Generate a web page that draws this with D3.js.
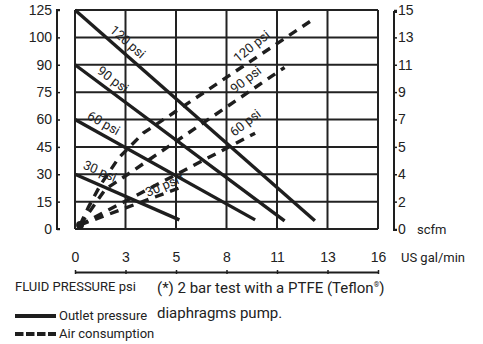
<!DOCTYPE html>
<html>
<head>
<meta charset="utf-8">
<script src="https://cdn.jsdelivr.net/npm/d3@7"></script>
<style>
  html, body { margin: 0; padding: 0; background: #fff; }
  svg { display: block; font-family: Roboto, "Liberation Sans", Arial, sans-serif; }
  text { fill: #222; }
</style>
</head>
<body>
<svg id="chart" width="483" height="344"></svg>
<script>
// Tick labels of the three scales (flow, fluid pressure, air consumption)
const flowTicks = [0, 3, 5, 8, 11, 13, 16];                   // US gal/min
const pressureTicks = [0, 15, 30, 45, 60, 75, 90, 100, 125];  // psi
const airTicks = [0, 2, 4, 5, 7, 9, 11, 13, 15];              // scfm

// Outlet pressure curves: [flow gal/min, outlet pressure psi]
const outlet120 = [[0, 125], [12.5, 4.5]];
const outlet90  = [[0, 90],  [11.3, 4.5]];
const outlet60  = [[0, 60],  [9.7, 5]];
const outlet30  = [[0, 30],  [5.2, 5]];

// Air consumption curves: [flow gal/min, air scfm]
const air120 = [[0.3, 0.3], [0.8, 1.6], [1.5, 3.2], [2.6, 4.6], [3.7, 6.0], [12.5, 14.4]];
const air90  = [[0.3, 0.3], [1.0, 1.5], [1.8, 2.9], [2.9, 3.8], [11.3, 10.8]];
const air60  = [[0.3, 0.3], [9.7, 6.0]];
const air30  = [[0.3, 0.3], [5.2, 3.0]];

const outletLabels = ["120 psi", "90 psi", "60 psi", "30 psi"];
const airLabels = ["120 psi", "90 psi", "60 psi", "30 psi*"];

const svg = d3.select("#chart");
const plot = { left: 75, right: 378, top: 10, bottom: 229 };

// The printed axes are evenly spaced ticks of converted units, so each
// scale is piecewise linear through its tick values.
const evenly = (n, a, b) => d3.range(n).map(i => a + (b - a) * i / (n - 1));
const x = d3.scaleLinear().domain(flowTicks).range(evenly(flowTicks.length, plot.left, plot.right));
const yP = d3.scaleLinear().domain(pressureTicks).range(evenly(pressureTicks.length, plot.bottom, plot.top));
const yA = d3.scaleLinear().domain(airTicks).range(evenly(airTicks.length, plot.bottom, plot.top));

const ink = "#1e1e1e";

// Grid
const grid = svg.append("g").attr("stroke", "#222").attr("stroke-width", 2);
grid.selectAll("line.h").data(pressureTicks).join("line")
  .attr("x1", plot.left).attr("x2", plot.right)
  .attr("y1", d => yP(d)).attr("y2", d => yP(d));
grid.selectAll("line.v").data(flowTicks).join("line")
  .attr("y1", plot.top).attr("y2", plot.bottom)
  .attr("x1", d => x(d)).attr("x2", d => x(d));

// Left axis (psi)
const leftAxis = svg.append("g").attr("transform", "translate(57,0)")
  .call(d3.axisRight(yP).tickValues(pressureTicks).tickSize(3).tickSizeOuter(0).tickFormat(d3.format("d")));
leftAxis.select(".domain").attr("stroke", ink).attr("stroke-width", 2).attr("d", `M3,${plot.top}H0V${plot.bottom}H3`);
leftAxis.selectAll(".tick line").attr("stroke", ink).attr("stroke-width", 1.5);
leftAxis.selectAll(".tick text").attr("x", -5).attr("text-anchor", "end")
  .style("font-size", "14px").attr("fill", "#222");

// Right axis (scfm)
const rightAxis = svg.append("g").attr("transform", "translate(394,0)")
  .call(d3.axisRight(yA).tickValues(airTicks).tickSize(3).tickSizeOuter(0).tickFormat(d3.format("d")));
rightAxis.select(".domain").attr("stroke", ink).attr("stroke-width", 2).attr("d", `M3,${plot.top + 2}H0V${plot.bottom + 1}H3`);
rightAxis.selectAll(".tick line").attr("stroke", ink).attr("stroke-width", 1.5);
rightAxis.selectAll(".tick text").attr("x", 4).style("font-size", "14px").attr("fill", "#222");
svg.append("text").attr("x", 417).attr("y", yA(0) + 5).style("font-size", "13px").text("scfm");

// Bottom axis (gal/min), labels above the line
const bottomAxis = svg.append("g").attr("transform", "translate(0,272)")
  .call(d3.axisTop(x).tickValues(flowTicks).tickSize(2).tickSizeOuter(0).tickFormat(d3.format("d")));
bottomAxis.select(".domain").attr("stroke", ink).attr("stroke-width", 2);
bottomAxis.selectAll(".tick line").attr("stroke", ink).attr("stroke-width", 1.5).attr("y1", 2).attr("y2", -2);
bottomAxis.selectAll(".tick text").attr("y", -10).style("font-size", "14px").attr("fill", "#222");
svg.append("text").attr("x", 401).attr("y", 262).style("font-size", "13px").text("US gal/min");

// Curves
const lineP = d3.line().x(d => x(d[0])).y(d => yP(d[1]));
const lineA = d3.line().x(d => x(d[0])).y(d => yA(d[1]));

const outletSeries = [outlet120, outlet90, outlet60, outlet30];
const airSeries = [air120, air90, air60, air30];

svg.append("g").selectAll("path").data(outletSeries).join("path")
  .attr("d", lineP).attr("fill", "none").attr("stroke", ink).attr("stroke-width", 3.4);

svg.append("g").selectAll("path").data(airSeries).join("path")
  .attr("d", lineA).attr("fill", "none").attr("stroke", ink).attr("stroke-width", 3.4)
  .attr("stroke-dasharray", "9,7");

// start of the air curves
svg.append("circle").attr("cx", x(air30[0][0])).attr("cy", yA(air30[0][1])).attr("r", 4).attr("fill", ink);

// Curve labels, rotated along their lines and set off to the upper side
function placeLabel(text, pts, scaleY, t, offset, angleOverride) {
  const p0 = [x(pts[pts.length - 2][0]), scaleY(pts[pts.length - 2][1])];
  const p1 = [x(pts[pts.length - 1][0]), scaleY(pts[pts.length - 1][1])];
  const ang = Math.atan2(p1[1] - p0[1], p1[0] - p0[0]);
  const cx = p0[0] + (p1[0] - p0[0]) * t, cy = p0[1] + (p1[1] - p0[1]) * t;
  const nx = Math.sin(ang), ny = -Math.cos(ang);
  const deg = angleOverride !== undefined ? angleOverride : ang * 180 / Math.PI;
  svg.append("text")
    .attr("transform", `translate(${cx + nx * offset},${cy + ny * offset}) rotate(${deg})`)
    .attr("text-anchor", "middle").attr("dy", "0.35em")
    .style("font-size", "13px").text(text);
}
placeLabel(outletLabels[0], outlet120, yP, 0.19, 11);
placeLabel(outletLabels[1], outlet90, yP, 0.15, 11);
placeLabel(outletLabels[2], outlet60, yP, 0.13, 11);
placeLabel(outletLabels[3], outlet30, yP, 0.19, 13);
placeLabel(airLabels[0], air120, yA, 0.67, 12, -39);
placeLabel(airLabels[1], air90, yA, 0.8, 12, -38);
placeLabel(airLabels[2], air60, yA, 0.98, 14, -38);
placeLabel(airLabels[3], air30, yA, 0.88, 8, -23);

// Legend
svg.append("text").attr("x", 15).attr("y", 291).style("font-size", "13px").text("FLUID PRESSURE psi");
svg.append("line").attr("x1", 15).attr("x2", 56).attr("y1", 316).attr("y2", 316)
  .attr("stroke", ink).attr("stroke-width", 4);
svg.append("text").attr("x", 59).attr("y", 320).style("font-size", "13px").text("Outlet pressure");
svg.append("line").attr("x1", 15).attr("x2", 56).attr("y1", 334).attr("y2", 334)
  .attr("stroke", ink).attr("stroke-width", 4).attr("stroke-dasharray", "8.5,2.5");
svg.append("text").attr("x", 59).attr("y", 338).style("font-size", "13px").text("Air consumption");

// Test note
const note = svg.append("text").attr("x", 157).attr("y", 293).style("font-size", "15px");
note.append("tspan").text("(*) 2 bar test with a PTFE (Teflon");
note.append("tspan").attr("dy", -6).style("font-size", "7px").text("®");
note.append("tspan").attr("dy", 6).text(")");
svg.append("text").attr("x", 157).attr("y", 318).style("font-size", "15px").text("diaphragms pump.");
</script>
</body>
</html>
